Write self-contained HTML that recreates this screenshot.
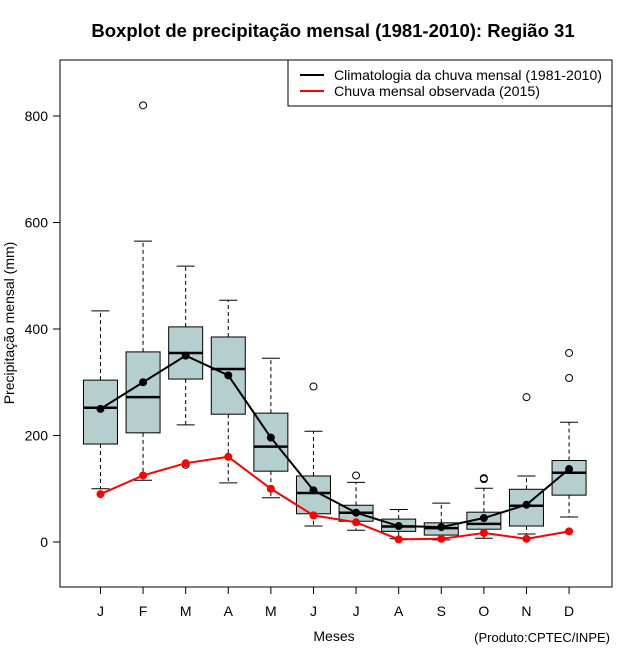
<!DOCTYPE html>
<html><head><meta charset="utf-8"><style>
body{margin:0;background:#fff}
svg{display:block;font-family:"Liberation Sans",sans-serif}
</style></head><body>
<svg id="chart" width="640" height="660" viewBox="0 0 640 660" xmlns="http://www.w3.org/2000/svg">
<rect x="0" y="0" width="640" height="660" fill="#fff"/>
<text x="333" y="37" text-anchor="middle" font-size="18.5" font-weight="bold">Boxplot de precipitação mensal (1981-2010): Região 31</text>
<g id="marks"></g>
<rect x="60" y="60" width="552" height="527" fill="none" stroke="#000" stroke-width="1"/>
<g>
<rect x="288" y="60" width="324" height="46" fill="#fff" stroke="#000"/>
<line x1="300" y1="75" x2="324" y2="75" stroke="#000" stroke-width="2"/>
<line x1="300" y1="91" x2="324" y2="91" stroke="#f00" stroke-width="2"/>
<text x="334" y="80" font-size="14" textLength="268" lengthAdjust="spacingAndGlyphs">Climatologia da chuva mensal (1981-2010)</text>
<text x="334" y="96" font-size="14" textLength="206" lengthAdjust="spacingAndGlyphs">Chuva mensal observada (2015)</text>
</g>
<text transform="translate(14,323) rotate(-90)" text-anchor="middle" font-size="14">Precipitação mensal (mm)</text>
<text x="334" y="641" text-anchor="middle" font-size="14">Meses</text>
<text x="610" y="642" text-anchor="end" font-size="13">(Produto:CPTEC/INPE)</text>
</svg>
<script>
const months=["J","F","M","A","M","J","J","A","S","O","N","D"];
const whiskLow=[100,116,220,111,83,30,22,6,4,7,15,47];
const q1=[184,205,306,240,133,53,39,20,13,24,30,88];
const median=[252,272,355,325,179,92,55,29,26,34,68,130];
const q3=[304,357,404,385,242,124,69,43,36,56,99,153];
const whiskHigh=[434,565,518,454,345,208,112,61,73,101,124,225];
const outlierMonth=[2,3,6,7,10,10,11,12,12];
const outlierValue=[820,145,292,125,118,120,272,308,355];
const climMean=[250,300,350,313,196,97,55,30,28,45,70,137];
const observed=[90,125,148,160,100,50,37,5,6,17,6,20];
const yTicks=[0,200,400,600,800];

const NS="http://www.w3.org/2000/svg";
const g=document.getElementById('marks');
const svg=document.getElementById('chart');
function X(i){return 60+(i+0.95)*42.6;}
function Y(v){return 542-v*0.5325;}
function mk(tag,attrs,parent){const e=document.createElementNS(NS,tag);for(const k in attrs)e.setAttribute(k,attrs[k]);(parent||g).appendChild(e);return e;}
const hw=17;
months.forEach((m,i)=>{
  const x=X(i);
  let e=mk('line',{x1:x,y1:Y(q3[i]),x2:x,y2:Y(whiskHigh[i]),stroke:'#000','stroke-dasharray':'4,3'});
  
  
  e=mk('line',{x1:x,y1:Y(q1[i]),x2:x,y2:Y(whiskLow[i]),stroke:'#000','stroke-dasharray':'4,3'});
  
  
  e=mk('line',{x1:x-9,y1:Y(whiskHigh[i]),x2:x+9,y2:Y(whiskHigh[i]),stroke:'#000'});
  
  
  e=mk('line',{x1:x-9,y1:Y(whiskLow[i]),x2:x+9,y2:Y(whiskLow[i]),stroke:'#000'});
  
  
  e=mk('rect',{x:x-hw,y:Y(q3[i]),width:2*hw,height:Y(q1[i])-Y(q3[i]),fill:'#b5cfcf',stroke:'#000'});
  
  
  e=mk('line',{x1:x-hw,y1:Y(median[i]),x2:x+hw,y2:Y(median[i]),stroke:'#000','stroke-width':2.5});
  
  
  e=mk('line',{x1:x,y1:587,x2:x,y2:594,stroke:'#000'},svg);
  
  
  e=mk('text',{x:x,y:616,'text-anchor':'middle','font-size':14},svg);
  e.textContent=m;
  
  
});
outlierMonth.forEach((m,k)=>{
  const e=mk('circle',{cx:X(m-1),cy:Y(outlierValue[k]),r:3.5,fill:'none',stroke:'#000'});
  
  
});
yTicks.forEach(v=>{
  let e=mk('line',{x1:53,y1:Y(v),x2:60,y2:Y(v),stroke:'#000'},svg);
  
  
  e=mk('text',{x:48,y:Y(v)+5,'text-anchor':'end','font-size':14},svg);
  e.textContent=v;
  
  
});
function series(vals,color,name){
  const l=mk('polyline',{points:vals.map((v,i)=>X(i)+','+Y(v)).join(' '),fill:'none',stroke:color,'stroke-width':2});
  
  
  vals.forEach((v,i)=>{
    const c=mk('circle',{cx:X(i),cy:Y(v),r:4,fill:color});
    
    
  });
}
series(observed,'#f00','observed');
series(climMean,'#000','climatology');
</script>
</body></html>
